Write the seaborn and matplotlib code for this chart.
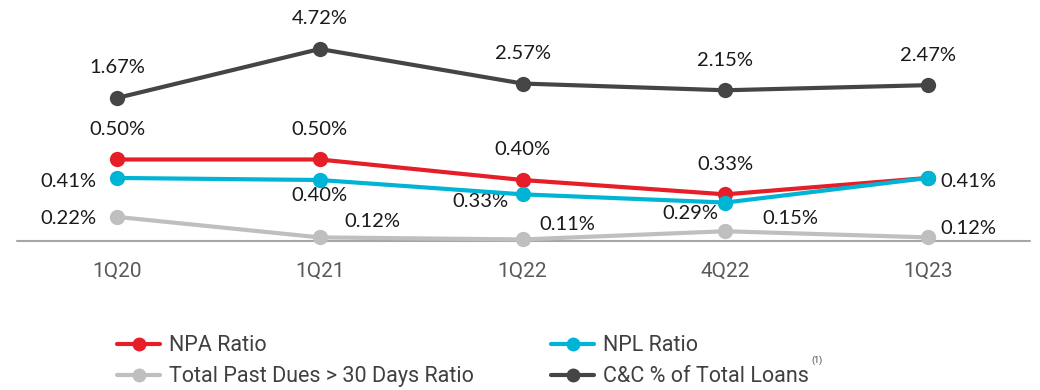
import matplotlib
matplotlib.use("Agg")
import matplotlib.pyplot as plt
import seaborn as sns
import pandas as pd
from matplotlib.lines import Line2D

quarters = ["1Q20", "1Q21", "1Q22", "4Q22", "1Q23"]
npa_ratio = [0.50, 0.50, 0.40, 0.33, 0.41]
npl_ratio = [0.41, 0.40, 0.33, 0.29, 0.41]
past_dues_30 = [0.22, 0.12, 0.11, 0.15, 0.12]
cc_pct_loans = [1.67, 4.72, 2.57, 2.15, 2.47]

series_names = ["NPA Ratio", "NPL Ratio", "Total Past Dues > 30 Days Ratio", "C&C % of Total Loans"]
colors = {"NPA Ratio": "#E61E28", "NPL Ratio": "#00B4D6",
          "Total Past Dues > 30 Days Ratio": "#BFBFBF", "C&C % of Total Loans": "#454545"}

sns.set_theme(style="white")
plt.rcParams["font.family"] = ["Lato", "DejaVu Sans"]
narrow = ["Roboto", "DejaVu Sans"]

fig = plt.figure(figsize=(10.4, 3.9), dpi=100)
ax = fig.add_axes([0, 128 / 390, 1, 262 / 390])
ax2 = ax.twinx()

lw, ms = 3.0, 11
x = list(range(len(quarters)))


def draw(axis, values, name, z):
    df = pd.DataFrame({"x": x, "y": values})
    sns.lineplot(data=df, x="x", y="y", ax=axis, color=colors[name], lw=lw,
                 marker="o", markersize=ms, markeredgewidth=0, zorder=z, legend=False)


# baseline rule
ax.axhline(0.102, xmin=17 / 1040, xmax=1030 / 1040, color="#A6A6A6", lw=1.5, zorder=1)

draw(ax, past_dues_30, "Total Past Dues > 30 Days Ratio", 2)
draw(ax, npa_ratio, "NPA Ratio", 3)
draw(ax, npl_ratio, "NPL Ratio", 4)
draw(ax2, cc_pct_loans, "C&C % of Total Loans", 3)

ax.set_ylim(0, 1.278)
ax2.set_ylim(-8.54, 7.77)
for a in (ax, ax2):
    a.set_xlim(-0.577, 4.552)
    for s in a.spines.values():
        s.set_visible(False)
    a.set_ylabel("")
    a.set_xlabel("")
ax2.set_yticks([])
ax.set_yticks([])
ax.set_xticks(x)
ax.set_xticklabels(quarters, family=narrow, fontsize=15, color="#595959")
ax.tick_params(axis="x", length=0, pad=0)

lab_kw = dict(fontsize=14.5, color="#1A1A1A", ha="center", va="center")


def label(axis, xi, val, dx_px, dy_px):
    axis.annotate(f"{val:.2f}%", (xi, val), xytext=(dx_px * 0.72, dy_px * 0.72),
                  textcoords="offset points", **lab_kw)


# C&C labels above points
for i, v in enumerate(cc_pct_loans):
    label(ax2, i, v, 0, 30)
# NPA labels above
for i, v in enumerate(npa_ratio[:4]):
    label(ax, i, v, 0, 30)
# NPL labels
npl_off = [(-49, -4), (0, -16), (-42, -7), (-35, -11), (40, -4)]
for i, v in enumerate(npl_ratio):
    label(ax, i, v, *npl_off[i])
# Past dues labels
pd_off = [(-49, -2), (53, 16), (45, 15), (65, 13), (40, 9)]
for i, v in enumerate(past_dues_30):
    label(ax, i, v, *pd_off[i])

handles = [Line2D([], [], color=colors[n], lw=lw, marker="o", markersize=ms - 1,
                  markeredgewidth=0) for n in series_names]
order = [0, 2, 1, 3]
leg = fig.legend([handles[i] for i in order], [series_names[i] for i in order],
                 loc="upper left", bbox_to_anchor=(98 / 1040, 1 - 316 / 390), ncol=2,
                 frameon=False, handlelength=2.0, handletextpad=0.4,
                 columnspacing=3.6, labelspacing=0.45,
                 prop={"family": narrow, "size": 15.5})
for t in leg.get_texts():
    t.set_color("#404040")

# footnote marker right after the last legend entry
fig.canvas.draw()
bb = leg.get_texts()[-1].get_window_extent()
fig.text((bb.x1 + 8) / 1040, (bb.y1 + 6) / 390, "(1)", fontsize=6.5, color="#404040",
         ha="center", va="center", family=narrow)

fig.savefig("out.png", dpi=100)
